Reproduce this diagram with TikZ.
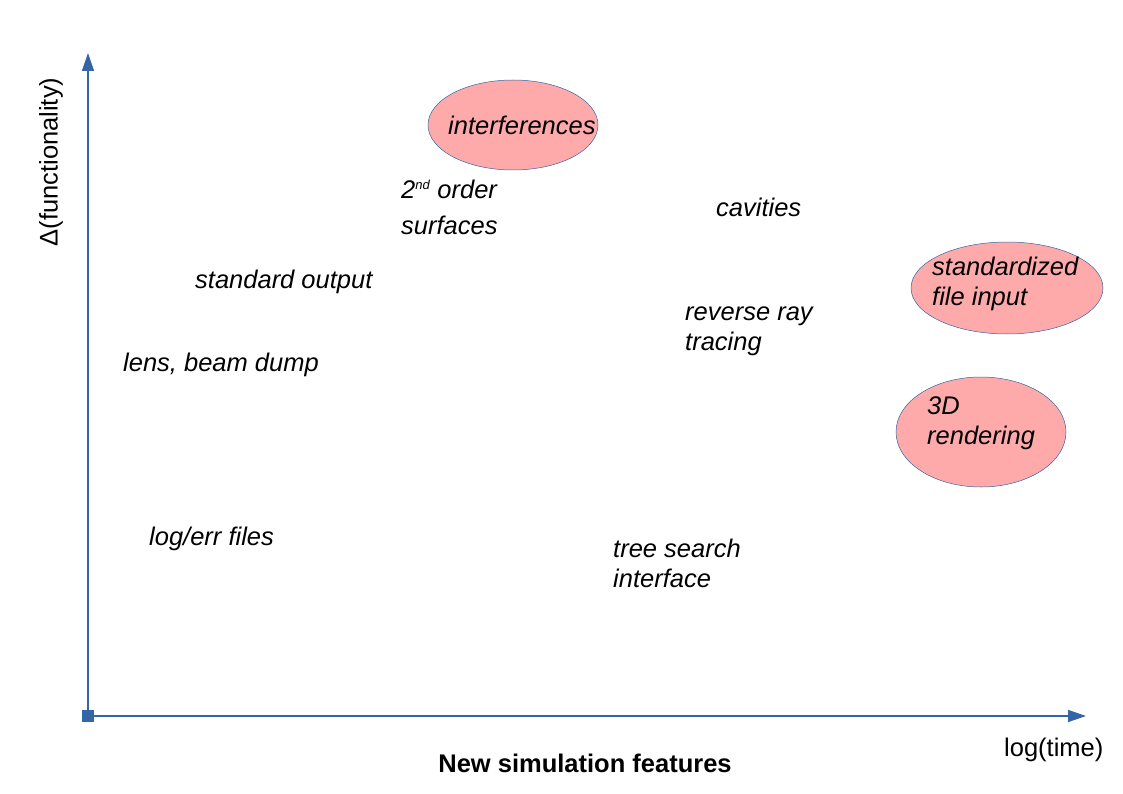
\documentclass[tikz,border=0pt]{standalone}
\usepackage{fontspec}
\setmainfont{Liberation Sans}
\usetikzlibrary{positioning, shapes.geometric, arrows.meta}
\definecolor{axisblue}{HTML}{3465A4}
\definecolor{hotpink}{HTML}{FFAAAA}

\begin{document}
\begin{tikzpicture}[x=1pt, y=-1pt,
    feature/.style={anchor=base west, inner sep=0pt, align=left, font=\fontsize{25.5}{30}\selectfont\itshape},
    blob/.style={ellipse, draw=axisblue, line width=0.5pt, fill=hotpink, inner sep=0pt},
    axis/.style={draw=axisblue, line width=1.4pt, -{Triangle[length=18pt, width=12pt]}}]
    \useasboundingbox (0,0) rectangle (1123,794);

    %Axes
    \node[fill=axisblue, inner sep=0pt, minimum size=12pt] (origin) at (88,716) {};
    \coordinate (ytip) at (88,53);
    \coordinate (xtip) at (1086,716);
    \draw[axis] (origin.center) -- (ytip);
    \draw[axis] (origin.center) -- (xtip);

    %Axis labels
    \node[rotate=90, inner sep=0pt, font=\fontsize{25.5}{30}\selectfont] (ylabel) at (51,162) {Δ(functionality)};
    \node[anchor=base west, inner sep=0pt, font=\fontsize{25.5}{30}\selectfont] (xlabel) at (1004,756) {log(time)};
    \node[anchor=base, inner sep=0pt, font=\fontsize{25.5}{30}\selectfont\bfseries] (title) at (585,772) {New simulation features};

    %Highlighted features
    \node[blob, minimum width=170pt, minimum height=90pt] (interfblob) at (513,125) {};
    \node[blob, minimum width=192pt, minimum height=92pt] (fileblob) at (1007,288) {};
    \node[blob, minimum width=170pt, minimum height=110pt] (renderblob) at (981,432) {};

    %Features (multi-line nodes sit on their last baseline)
    \node[feature] (interf) at (448,135) {interferences};
    \node[feature] (surf) at (401,235) {2\textsuperscript{\fontsize{13}{13}\selectfont nd} order\\[6pt]surfaces};
    \node[feature] (cavities) at (716,217) {cavities};
    \node[feature] (stdout) at (195,288) {standard output};
    \node[feature] (fileinput) at (932,305) {standardized\\file input};
    \node[feature] (reverse) at (685,350) {reverse ray\\tracing};
    \node[feature] (lens) at (123,371) {lens, beam dump};
    \node[feature] (render) at (927,444) {3D\\rendering};
    \node[feature] (logfiles) at (149,545) {log/err files};
    \node[feature] (tree) at (613,587) {tree search\\interface};
\end{tikzpicture}
\end{document}
